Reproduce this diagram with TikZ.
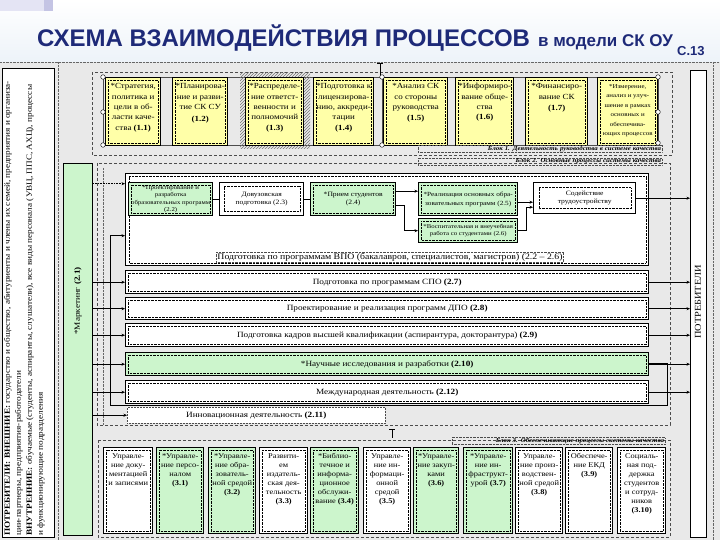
\documentclass[tikz,border=0pt]{standalone}
\usepackage{fontspec}
\usepackage{graphicx}
\setmainfont{Liberation Serif}[FakeStretch=1.15]
\newfontfamily\arial{Liberation Sans}
\usetikzlibrary{arrows.meta,patterns,calc}
\definecolor{ylw}{HTML}{FFFFA8}
\definecolor{grn}{HTML}{CCF5CC}
\definecolor{bgg}{HTML}{E9E9E9}
\definecolor{ttl}{HTML}{1E2A78}
\definecolor{band}{HTML}{EDF3F9}
\definecolor{lav1}{HTML}{E4E4F4}
\definecolor{lav2}{HTML}{C4C4E4}
\newcommand\tbx[7]{\node[#1,anchor=north west,inner sep=0pt,minimum width=#5pt,minimum height=#6pt] (#2) at (#3,#4) {\parbox[c][\dimexpr#6pt-5pt\relax][t]{#5pt}{\centering\vspace*{1.5pt}\begin{tabular}{@{}c@{}}#7\end{tabular}\par}};}
\begin{document}
\begin{tikzpicture}[x=1pt,y=-1pt,
  dotin/.style={path picture={\draw[densely dotted,line width=0.4pt] ([shift={(#1,-#1)}]path picture bounding box.north west) rectangle ([shift={(-#1,#1)}]path picture bounding box.south east);}},
  dotin/.default=2.5pt,
  pbox/.style={draw=black,line width=1.4pt,dotin},
  ybox/.style={pbox,fill=ylw,font=\fontsize{7.8}{10.3}\selectfont},
  gbox/.style={pbox,fill=grn,font=\fontsize{7.3}{9}\selectfont},
  wbox/.style={pbox,fill=white,font=\fontsize{7.3}{9}\selectfont},
  sbox/.style={pbox,anchor=north west,inner sep=1pt,align=center,font=\fontsize{6.6}{8.5}\selectfont},
  rbox/.style={pbox,anchor=north west,minimum width=523pt,inner sep=0pt,font=\fontsize{8}{10}\selectfont},
  frm/.style={draw=black!70,line width=0.5pt,dash pattern=on 3pt off 2pt},
  dline/.style={draw=black!60,line width=0.4pt,densely dotted},
  lbl/.style={draw=black!70,densely dotted,line width=0.4pt,font=\fontsize{6}{7}\selectfont\itshape\bfseries,inner sep=0.8pt,align=right},
  arr/.style={draw=black,line width=0.6pt,-{Stealth[length=3.5pt,width=3pt]}},
  ln/.style={draw=black,line width=0.6pt},
  hdl/.style={draw=black,line width=0.4pt,fill=white}
]
\useasboundingbox (0,0) rectangle (720,540);
% backgrounds
\fill[bgg] (0,62) rectangle (720,540);
\shade[top color=white,bottom color=band] (0,0) rectangle (720,62);
\fill[lav1] (0,0) rectangle (44,11);
\fill[lav2] (44,0) rectangle (53,11);
% title
\node[anchor=base west,font=\arial\bfseries\fontsize{24}{24}\selectfont,text=ttl,inner sep=0pt] (title) at (37,47) {СХЕМА ВЗАИМОДЕЙСТВИЯ ПРОЦЕССОВ};
\node[anchor=base west,font=\arial\bfseries\fontsize{17}{17}\selectfont,text=ttl,inner sep=0pt] (sub) at (538,47) {в модели СК ОУ};
\node[anchor=base west,font=\arial\bfseries\fontsize{13}{13}\selectfont,text=ttl,inner sep=0pt] (pg) at (677,56) {С.13};
% decorative dotted frame lines
\draw[dline] (58,62) -- (58,540);
\draw[dline] (713,62) -- (713,540);
\draw[dline] (0,62) -- (720,62);
\draw[dline] (103,168) -- (103,425);
% block frames
\draw[frm] (92,72) rectangle (672,155);
\draw[frm] (97,163) rectangle (670,425);
\draw[frm] (98,440) rectangle (670,537);
% selection frames
\draw[black!70,line width=0.4pt] (103,77) rectangle (382,145);
\draw[black!70,line width=0.4pt] (382,77) rectangle (658,145);
\draw[black,line width=0.5pt] (380,63) -- (380,77) (377,63) -- (383,63);
\draw[black,line width=0.5pt] (392,429) -- (392,438) (389,429) -- (395,429);
% left consumers panel
\node[draw=black,line width=1.4pt,fill=white,anchor=north west,minimum width=52pt,minimum height=469pt,inner sep=0pt] (cons) at (2,68) {};
\node[rotate=90,anchor=north west,align=left,inner sep=1pt,font=\fontsize{8}{11}\selectfont] (const) at (3,537) {\textbf{ПОТРЕБИТЕЛИ: ВНЕШНИЕ:} государство и общество, абитуриенты и члены их семей, предприятия и организа-\\ции-партнеры, предприятия-работодатели\\\textbf{ВНУТРЕННИЕ:} обучаемые (студенты, аспиранты, слушатели), все виды персонала (УВЦ, ППС, АХЦ), процессы\\и функционирующие подразделения};
% right consumers panel
\node[draw=black,line width=1.4pt,fill=white,anchor=north west,minimum width=16pt,minimum height=467pt,inner sep=0pt] (potr) at (690,70) {};
\node[rotate=90,font=\fontsize{9}{10}\selectfont,inner sep=0pt] (potrt) at (698,302) {ПОТРЕБИТЕЛИ};
% marketing
\node[draw=black,line width=1.2pt,fill=grn,anchor=north west,minimum width=29pt,minimum height=372pt,inner sep=0pt] (mk) at (63,163) {};
\node[rotate=90,font=\fontsize{8}{10}\selectfont,inner sep=0pt] (mkt) at (78,301) {*Маркетинг \textbf{(2.1)}};
% hatched shadow of 1.3
\fill[pattern=north east lines,pattern color=black!55] (240,73) rectangle (310,149);
% block 1
\tbx{ybox}{b11}{105}{77}{55}{68}{*Стратегия,\\политика и\\цели в об-\\ласти каче-\\ства \textbf{(1.1)}}
\tbx{ybox}{b12}{172}{77}{55}{68}{*Планирова-\\ние и разви-\\тие СК СУ\\[2pt]\textbf{(1.2)}}
\tbx{ybox}{b13}{245}{77}{58}{68}{*Распределе-\\ние ответст-\\венности и\\полномочий\\\textbf{(1.3)}}
\tbx{ybox}{b14}{313}{77}{60}{68}{*Подготовка к\\лицензирова-\\нию, аккреди-\\тации\\\textbf{(1.4)}}
\tbx{ybox}{b15}{383}{77}{64}{68}{*Анализ СК\\со стороны\\руководства\\[1pt]\textbf{(1.5)}}
\tbx{ybox}{b16}{455}{77}{58}{68}{*Информиро-\\вание обще-\\ства\\\textbf{(1.6)}}
\tbx{ybox}{b17}{525}{77}{62}{68}{*Финансиро-\\вание СК\\[1pt]\textbf{(1.7)}}
\tbx{ybox,font=\fontsize{6}{9.5}\selectfont}{b18}{597}{77}{60}{68}{*Измерение,\\анализ и улуч-\\шение в рамках\\основных и\\обеспечива-\\ющих процессов}
\foreach \p in {(103,77),(103,112),(103,145),(382,77),(382,145),(658,77),(658,112),(658,143)} \draw[hdl] \p circle (2.3pt);
\node[lbl,anchor=north east,text width=242pt] (lb1) at (662,145) {Блок 1. Деятельность руководства в системе качества};
\node[lbl,anchor=north east,text width=242pt] (lb2) at (662,158) {Блок 2. Основные процессы системы качества};
% block 2
\node[pbox,fill=white,dotin=3pt,anchor=north west,minimum width=523pt,minimum height=92pt,inner sep=0pt] (vpo) at (125,173) {};
\node[sbox,fill=grn,minimum width=84pt,minimum height=33pt,font=\fontsize{5.9}{7.3}\selectfont] (b22) at (128,182) {*Проектирование и\\разработка\\образовательных программ\\(2.2)};
\node[sbox,fill=white,dotin=4pt,minimum width=84pt,minimum height=33pt] (b23) at (219,182) {Довузовская\\подготовка (2.3)};
\node[sbox,fill=grn,minimum width=85pt,minimum height=33pt] (b24) at (310,182) {*Прием студентов\\(2.4)};
\node[sbox,fill=grn,minimum width=99pt,minimum height=33pt,font=\fontsize{6.3}{8.5}\selectfont] (b25) at (418,182) {*Реализация основных обра-\\зовательных программ (2.5)};
\node[sbox,fill=grn,minimum width=99pt,minimum height=24pt,font=\fontsize{5.9}{7.5}\selectfont] (b26) at (418,218) {*Воспитательная и внеучебная\\работа со студентами (2.6)};
\node[sbox,fill=white,dotin=5pt,minimum width=102pt,minimum height=31pt] (sod) at (533,182) {Содействие\\трудоустройству};
\node[draw=black!70,densely dotted,line width=0.4pt,inner sep=1pt,font=\fontsize{8.5}{9}\selectfont] (vpol) at (390,257) {Подготовка по программам ВПО (бакалавров, специалистов, магистров) (2.2 – 2.6)};
\node[rbox,fill=white,minimum height=23pt] (b27) at (125,270) {Подготовка по программам СПО \textbf{(2.7)}};
\node[rbox,fill=white,minimum height=22pt] (b28) at (125,297) {Проектирование и реализация программ ДПО \textbf{(2.8)}};
\node[rbox,fill=white,minimum height=23pt] (b29) at (125,323) {Подготовка кадров высшей квалификации (аспирантура, докторантура) \textbf{(2.9)}};
\node[rbox,fill=grn,minimum height=23pt] (b210) at (125,352) {*Научные исследования и разработки \textbf{(2.10)}};
\node[rbox,fill=white,minimum height=23pt] (b212) at (125,380) {Международная деятельность \textbf{(2.12)}};
\node[draw=black!70,densely dotted,line width=0.5pt,fill=white,anchor=north west,minimum width=258pt,minimum height=16pt,inner sep=0pt,font=\fontsize{8}{10}\selectfont] (b211) at (127,407) {Инновационная деятельность \textbf{(2.11)}};
% block 2 connectors
\draw[ln] (b22) -- (b23);
\draw[ln] (b23) -- (b24);
\draw[arr] ([yshift=8pt]b24.east) -- ([yshift=8pt]b25.west);
\draw[arr] ([yshift=-6pt]b24.east) -- ++(8,0) |- (b26.west);
\draw[arr] ([yshift=-3pt]b25.east) -- ([yshift=-3pt]b25.east -| sod.west);
\draw[arr] (b26.east) -- ++(8,0) |- ([yshift=-9pt]sod.west);
\draw[arr] (sod.east) -- (sod.east -| potr.west);
\draw[arr,densely dotted] ([yshift=36pt]vpo.west -| mk.east) -- ([yshift=36pt]vpo.west);
\foreach \n in {b27,b28,b29,b210,b212,b211} \draw[arr] (mk.east |- \n.west) -- (\n.west);
\foreach \n in {b27,b28,b29,b210,b212} \draw[arr] (\n.east) -- (\n.east -| potr.west);
\coordinate (lpR) at (667,405);
\coordinate (lpL) at (110,405);
\draw[arr] ([yshift=1pt]b210.east) -| (lpR) -- (lpL) |- ([yshift=-16pt]vpo.west);
% block 3
\node[lbl,anchor=north east,text width=211pt] (lb3) at (665,437) {Блок 3. Обеспечивающие процессы системы качества};
\tbx{wbox}{b30}{103}{447}{49}{86}{Управле-\\ние доку-\\ментацией\\и записями}
\tbx{gbox}{b31}{156}{447}{47}{86}{*Управле-\\ние персо-\\налом\\\textbf{(3.1)}}
\tbx{gbox}{b32}{208}{447}{47}{86}{*Управле-\\ние обра-\\зователь-\\ной средой\\\textbf{(3.2)}}
\tbx{wbox}{b33}{259}{447}{48}{86}{Развити-\\ем\\издатель-\\ская дея-\\тельность\\\textbf{(3.3)}}
\tbx{gbox}{b34}{310}{447}{48}{86}{*Библио-\\течное и\\информа-\\ционное\\обслужи-\\вание \textbf{(3.4)}}
\tbx{wbox}{b35}{363}{447}{47}{86}{Управле-\\ние ин-\\формаци-\\онной\\средой\\\textbf{(3.5)}}
\tbx{gbox}{b36}{413}{447}{45}{86}{*Управле-\\ние закуп-\\ками\\\textbf{(3.6)}}
\tbx{gbox}{b37}{463}{447}{49}{86}{*Управле-\\ние ин-\\фраструкт-\\урой \textbf{(3.7)}}
\tbx{wbox}{b38}{515}{447}{47}{86}{Управле-\\ние произ-\\водствен-\\ной средой\\\textbf{(3.8)}}
\tbx{wbox}{b39}{565}{447}{47}{86}{Обеспече-\\ние ЕКД\\\textbf{(3.9)}}
\tbx{wbox}{b310}{617}{447}{48}{86}{Социаль-\\ная под-\\держка\\студентов\\и сотруд-\\ников\\\textbf{(3.10)}}
\end{tikzpicture}
\end{document}
